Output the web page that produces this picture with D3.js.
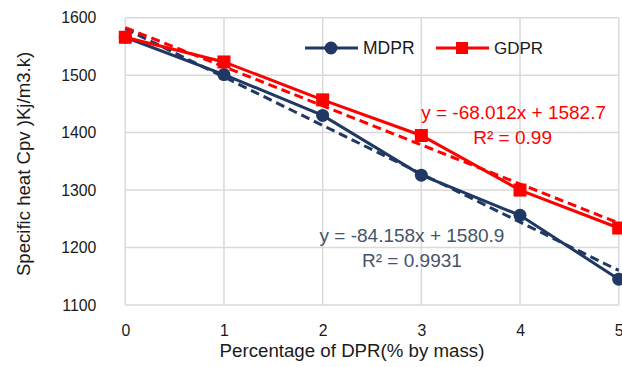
<!DOCTYPE html>
<html><head><meta charset="utf-8">
<script src="https://cdn.jsdelivr.net/npm/d3@7"></script>
<style>body{margin:0;background:#fff}svg{display:block}</style>
</head><body><svg id="c" width="622" height="367"></svg>
<script>
const xTicks = [0, 1, 2, 3, 4, 5];
const yTicks = [1100, 1200, 1300, 1400, 1500, 1600];
const mdpr = [1566, 1501, 1430, 1326, 1256, 1145];
const gdpr = [1566, 1523, 1457, 1395, 1300, 1234];
const mdprFit = { slope: -84.158, intercept: 1580.9, label: "y = -84.158x + 1580.9", r2: "R² = 0.9931" };
const gdprFit = { slope: -68.012, intercept: 1582.7, label: "y = -68.012x + 1582.7", r2: "R² = 0.99" };
const seriesNames = ["MDPR", "GDPR"];

const svg = d3.select("#c");
const font = "'Liberation Sans', Arial, sans-serif";
const x = d3.scaleLinear().domain([0, 5]).range([125.3, 618.7]);
const y = d3.scaleLinear().domain([1100, 1600]).range([305, 17.7]);
const navy = "#203864", red = "#FF0000", grid = "#d9d9d9", txt = "#1a1a1a";

// gridlines
svg.append("g").selectAll("line").data(yTicks).join("line")
  .attr("x1", x(0)).attr("x2", x(5)).attr("y1", d => y(d)).attr("y2", d => y(d))
  .attr("stroke", grid).attr("stroke-width", 1.5);
svg.append("g").selectAll("line").data(xTicks).join("line")
  .attr("y1", y(1100)).attr("y2", y(1600)).attr("x1", d => x(d)).attr("x2", d => x(d))
  .attr("stroke", grid).attr("stroke-width", 1.5);

// axes labels
const yAxis = d3.axisLeft(y).tickValues(yTicks).tickSize(0).tickPadding(0).tickFormat(d3.format("d"));
const gy = svg.append("g").attr("transform", `translate(${x(0) - 29},0)`).call(yAxis);
gy.select(".domain").remove();
gy.selectAll("text").attr("font-family", font).attr("font-size", 15.8).attr("fill", txt);

const xAxis = d3.axisBottom(x).tickValues(xTicks).tickSize(0).tickPadding(0).tickFormat(d3.format("d"));
const gx = svg.append("g").attr("transform", `translate(0,${y(1100)})`).call(xAxis);
gx.select(".domain").remove();
gx.selectAll("text").attr("font-family", font).attr("font-size", 15.8).attr("fill", txt)
  .attr("dy", null).attr("y", 30.5);

svg.append("text").attr("x", 352).attr("y", 356.5).attr("text-anchor", "middle")
  .attr("font-family", font).attr("font-size", 18.7).attr("fill", txt)
  .text("Percentage of DPR(% by mass)");
svg.append("text").attr("transform", `translate(30,164) rotate(-90)`)
  .attr("text-anchor", "middle").attr("font-family", font).attr("font-size", 18.6).attr("fill", txt)
  .text("Specific heat Cpv )Kj/m3.k)");

const line = d3.line().x((d, i) => x(xTicks[i])).y(d => y(d));

// trend lines
function trend(fit, color) {
  svg.append("line").attr("x1", x(0)).attr("x2", x(5))
    .attr("y1", y(fit.intercept)).attr("y2", y(fit.intercept + fit.slope * 5))
    .attr("stroke", color).attr("stroke-width", 3).attr("stroke-dasharray", "9,5");
}

// series
svg.append("path").datum(mdpr).attr("d", line).attr("fill", "none").attr("stroke", navy).attr("stroke-width", 3);
trend(mdprFit, navy);
svg.append("g").selectAll("circle").data(mdpr).join("circle")
  .attr("cx", (d, i) => x(xTicks[i])).attr("cy", d => y(d)).attr("r", 6.5).attr("fill", navy);

svg.append("path").datum(gdpr).attr("d", line).attr("fill", "none").attr("stroke", red).attr("stroke-width", 3);
trend(gdprFit, red);
svg.append("g").selectAll("rect").data(gdpr).join("rect")
  .attr("x", (d, i) => x(xTicks[i]) - 6.5).attr("y", d => y(d) - 6.5).attr("width", 13).attr("height", 13).attr("fill", red);

// equations
const eqSize = 19;
svg.append("text").attr("x", x(3.935)).attr("y", y(1400) - 14).attr("text-anchor", "middle")
  .attr("font-family", font).attr("font-size", eqSize).attr("fill", red).text(gdprFit.label);
svg.append("text").attr("x", x(3.925)).attr("y", y(1400) + 11).attr("text-anchor", "middle")
  .attr("font-family", font).attr("font-size", eqSize).attr("fill", red).text(gdprFit.r2);
svg.append("text").attr("x", x(2.905)).attr("y", y(1200) - 6).attr("text-anchor", "middle")
  .attr("font-family", font).attr("font-size", eqSize).attr("fill", "#44546A").text(mdprFit.label);
svg.append("text").attr("x", x(2.905)).attr("y", y(1200) + 19).attr("text-anchor", "middle")
  .attr("font-family", font).attr("font-size", eqSize).attr("fill", "#44546A").text(mdprFit.r2);

// legend
const lg = svg.append("g");
const ly = 48;
lg.append("line").attr("x1", 305).attr("x2", 358).attr("y1", ly).attr("y2", ly).attr("stroke", navy).attr("stroke-width", 3);
lg.append("circle").attr("cx", 331).attr("cy", ly).attr("r", 6.5).attr("fill", navy);
lg.append("text").attr("x", 363).attr("y", ly + 6).attr("font-family", font).attr("font-size", 17.5).attr("fill", txt).text(seriesNames[0]);
lg.append("line").attr("x1", 436).attr("x2", 489).attr("y1", ly).attr("y2", ly).attr("stroke", red).attr("stroke-width", 3);
lg.append("rect").attr("x", 456).attr("y", ly - 6).attr("width", 12).attr("height", 12).attr("fill", red);
lg.append("text").attr("x", 494).attr("y", ly + 6).attr("font-family", font).attr("font-size", 17).attr("fill", txt).text(seriesNames[1]);
</script></body></html>
